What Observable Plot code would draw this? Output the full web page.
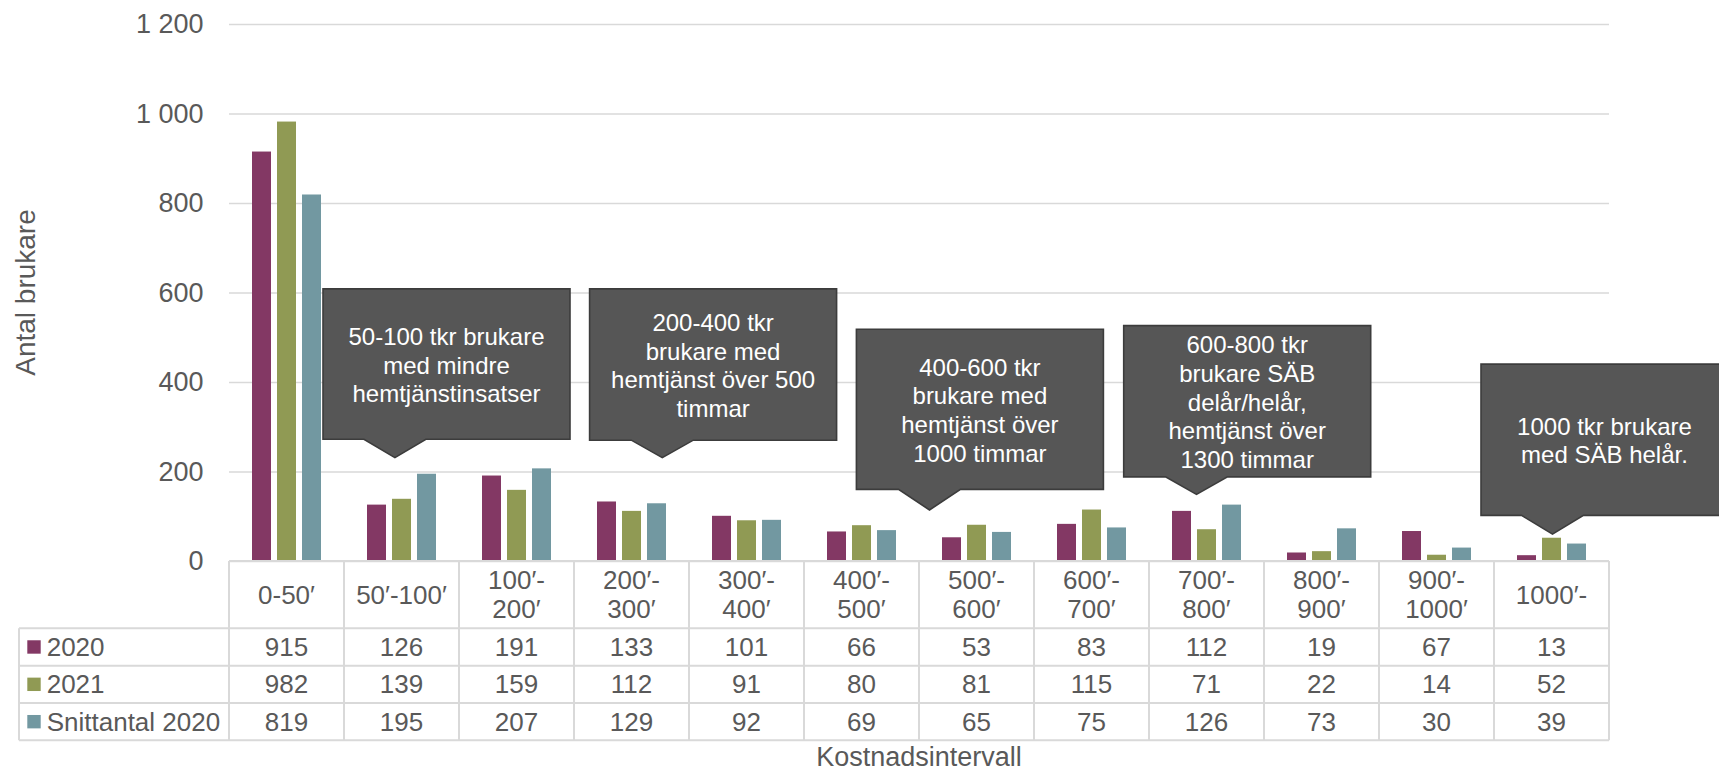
<!DOCTYPE html>
<html><head><meta charset="utf-8">
<script src="https://cdn.jsdelivr.net/npm/d3@7"></script>
<script src="https://cdn.jsdelivr.net/npm/@observablehq/plot@0.6"></script>
<style>
body{margin:0;background:#fff;}
#wrap{position:relative;width:1719px;height:773px;overflow:hidden;font-family:"Liberation Sans",Arial,sans-serif;color:#595959;background:#fff;}
#wrap svg{display:block;position:absolute;left:0;}
</style></head><body><div id="wrap"></div>
<script>
// ---- data ----
const categories = ["0-50′","50′-100′","100′-200′","200′-300′","300′-400′","400′-500′","500′-600′","600′-700′","700′-800′","800′-900′","900′-1000′","1000′-"];
const seriesNames = ["2020","2021","Snittantal 2020"];
const values2020 = [915,126,191,133,101,66,53,83,112,19,67,13];
const values2021 = [982,139,159,112,91,80,81,115,71,22,14,52];
const valuesSnitt = [819,195,207,129,92,69,65,75,126,73,30,39];
const seriesColors = ["#833864","#909a54","#7298a1"];
const yTicks = [0,200,400,600,800,1000,1200];
const yTitle = "Antal brukare";
const xTitle = "Kostnadsintervall";
const calloutTexts = [
  ["50-100 tkr brukare","med mindre","hemtjänstinsatser"],
  ["200-400 tkr","brukare med","hemtjänst över 500","timmar"],
  ["400-600 tkr","brukare med","hemtjänst över","1000 timmar"],
  ["600-800 tkr","brukare SÄB","delår/helår,","hemtjänst över","1300 timmar"],
  ["1000 tkr brukare","med SÄB helår."]
];
// callout anchoring: category, box top/bottom and pointer tip in y units, horizontal offsets in px
const calloutCategory = ["50′-100′","200′-300′","500′-600′","700′-800′","1000′-"];
const calloutTop = [608,608,518,526,440];
const calloutBottom = [272,270,160,188,102];
const calloutTip = [231,231,114,149,60];
const calloutDx = [45,81.6,3.4,40.7,53];
const calloutTipDx = [-6.6,30.8,-47,-10,1];

const seriesValues = [values2020, values2021, valuesSnitt];
const rows = categories.flatMap((c,i)=>seriesNames.map((s,j)=>({category:c, series:s, value:seriesValues[j][i]})));
const fmt = d => d3.format(",")(d).replace(/,/g,"\u00a0");

const W = 1719, H = 561, TOTAL = 773;
const chart = Plot.plot({
  width: W, height: H,
  marginLeft: 228, marginRight: 110, marginTop: 24, marginBottom: 0,
  style: {fontFamily: "'Liberation Sans', Arial, sans-serif", fontSize: "27px", color: "#595959", background: "transparent", overflow: "visible"},
  fx: {domain: categories, padding: 0, axis: null, label: null},
  x: {domain: seriesNames, paddingInner: 0.227, paddingOuter: 0.87, axis: null},
  y: {domain: [0,1200], label: null},
  color: {domain: seriesNames, range: seriesColors},
  marks: [
    Plot.gridY(yTicks, {stroke: "#d9d9d9", strokeOpacity: 1, strokeWidth: 1.5}),
    Plot.barY(rows, {fx: "category", x: "series", y: "value", fill: "series", inset: 0}),
    Plot.axisY(yTicks, {tickSize: 0, tickPadding: 26, tickFormat: fmt, label: null, fill: "#595959"})
  ]
});
const wrap = document.getElementById("wrap");
chart.style.top = "0px";
wrap.appendChild(chart);

const yS = chart.scale("y"), fxS = chart.scale("fx");
const bw = fxS.bandwidth;
const svg = d3.select(chart);

// y-axis title
svg.append("text").attr("transform", `translate(35,${(yS.apply(0)+yS.apply(1200))/2}) rotate(-90)`)
  .attr("text-anchor","middle").attr("font-size",28).attr("fill","#595959").text(yTitle);

// callouts
const boxW = 247, baseHalf = 31, lh = 28.7;
const cg = svg.append("g");
calloutCategory.forEach((cat,k)=>{
  const cx = fxS.apply(cat) + bw/2;
  const bx = cx + calloutDx[k];
  const L = bx - boxW/2, R = bx + boxW/2;
  const T = yS.apply(calloutTop[k]), B = yS.apply(calloutBottom[k]), tY = yS.apply(calloutTip[k]);
  const tx = cx + calloutTipDx[k];
  cg.append("path").attr("d",`M${L},${T}H${R}V${B}H${tx+baseHalf}L${tx},${tY}L${tx-baseHalf},${B}H${L}Z`)
    .attr("fill","#565656").attr("stroke","#3c3c3c").attr("stroke-width",1.6).attr("stroke-linejoin","miter");
  const lines = calloutTexts[k], n = lines.length, mid = (T+B)/2 + 1;
  lines.forEach((t,i)=>{
    cg.append("text").attr("x",bx).attr("y",mid + (i-(n-1)/2)*lh).attr("dy","0.35em")
      .attr("text-anchor","middle").attr("font-size",24).attr("fill","#ffffff").text(t);
  });
});

// data table below the plot
const tH = TOTAL - H;
const tsvg = d3.select(wrap).append("svg").attr("width",W).attr("height",tH)
  .style("top",H+"px").style("font-family","'Liberation Sans', Arial, sans-serif").style("overflow","visible");
const x0 = fxS.apply(categories[0]), x1 = fxS.apply(categories[categories.length-1]) + bw;
const legL = 19;
const hdrB = 67.3, rowH = 37.35;
const rowY = [hdrB, hdrB+rowH, hdrB+2*rowH, hdrB+3*rowH];
const bc = "#d9d9d9", bwid = 2;
const lines = tsvg.append("g").attr("stroke",bc).attr("stroke-width",bwid);
lines.append("line").attr("x1",x0).attr("x2",x1).attr("y1",0).attr("y2",0);
rowY.forEach(y=>lines.append("line").attr("x1",legL).attr("x2",x1).attr("y1",y).attr("y2",y));
lines.append("line").attr("x1",legL).attr("x2",legL).attr("y1",hdrB).attr("y2",rowY[3]);
categories.forEach(c=>lines.append("line").attr("x1",fxS.apply(c)).attr("x2",fxS.apply(c)).attr("y1",0).attr("y2",rowY[3]));
lines.append("line").attr("x1",x1).attr("x2",x1).attr("y1",0).attr("y2",rowY[3]);

const tg = tsvg.append("g").attr("fill","#595959").attr("font-size",26).attr("text-anchor","middle");
categories.forEach((c,i)=>{
  const cx = fxS.apply(c) + bw/2;
  let parts = [c];
  const h = c.indexOf("-");
  if (c.length > 8 && h > 0 && h < c.length-1) parts = [c.slice(0,h+1), c.slice(h+1)];
  const lh2 = 29.3, mid = hdrB/2;
  parts.forEach((p,k)=>tg.append("text").attr("x",cx).attr("y",mid + (k-(parts.length-1)/2)*lh2).attr("dy","0.35em").text(p));
  seriesValues.forEach((vals,j)=>{
    tg.append("text").attr("x",cx).attr("y",(rowY[j]+rowY[j+1])/2).attr("dy","0.35em").text(vals[i]);
  });
});
seriesNames.forEach((s,j)=>{
  const cy = (rowY[j]+rowY[j+1])/2;
  tsvg.append("rect").attr("x",27.3).attr("y",cy-6.7).attr("width",13.4).attr("height",13.4).attr("fill",seriesColors[j]);
  tsvg.append("text").attr("x",46.7).attr("y",cy).attr("dy","0.35em").attr("font-size",26).attr("fill","#595959").text(s);
});
tsvg.append("text").attr("x",(x0+x1)/2).attr("y",195.5).attr("dy","0.35em").attr("text-anchor","middle")
  .attr("font-size",27).attr("fill","#595959").text(xTitle);
</script></body></html>
